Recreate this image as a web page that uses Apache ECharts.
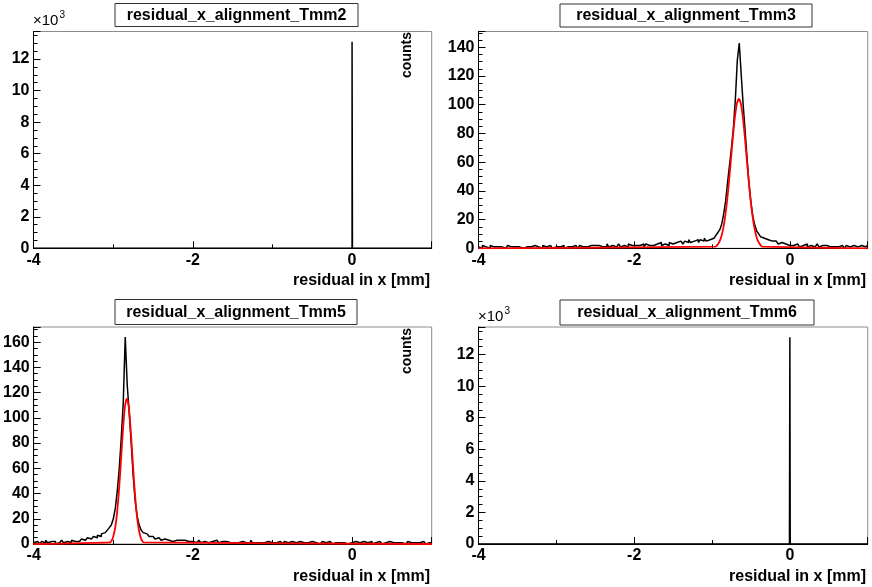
<!DOCTYPE html>
<html>
<head>
<meta charset="utf-8">
<script src="https://cdn.jsdelivr.net/npm/echarts@6/dist/echarts.min.js"></script>
<style>
html,body{margin:0;padding:0;background:#fff;}
#c{width:872px;height:587px;}
</style>
</head>
<body>
<div id="c"></div>
<script>
// ---------------- DATA ----------------
const panelTitles = ['residual_x_alignment_Tmm2', 'residual_x_alignment_Tmm3', 'residual_x_alignment_Tmm5', 'residual_x_alignment_Tmm6'];
const xTitle = 'residual in x [mm]';
const yTitle = 'counts';
const xRange = [-4, 1];
const xTickLabels = ['-4', '-2', '0'];

// Tmm2 / Tmm6: nearly all entries in one bin at 0 (bin edges + counts)
const tmm2Edges = [-4, 0, 0.005];
const tmm2Counts = [0, 13100, 0];
const tmm6Edges = [-4, -0.005, 0, 0.005];
const tmm6Counts = [0, 900, 13100, 0];
const yMaxTmm2 = 13750, yMaxTmm6 = 13750;

// Tmm3 / Tmm5: 200 bins of 0.025 mm from -4 to 1
const binStart = -4, binWidth = 0.025;
const tmm3Counts = [
  1,0,2,1,1,0,2,1,0,1,2,1,1,0,1,2,1,0,1,1,
  1,2,0,1,1,2,1,0,2,1,1,1,0,2,1,1,2,1,0,1,
  2,1,1,2,0,1,2,1,1,2,1,0,2,1,2,1,1,2,1,2,
  1,2,2,1,2,1,3,1,2,2,1,2,3,1,2,2,1,3,2,2,
  2,3,2,2,3,1,3,2,3,2,3,3,2,4,2,3,3,2,4,3,
  3,4,3,5,4,3,5,4,6,4,5,5,6,4,6,5,7,5,6,7,
  7,8,9,11,13,17,24,33,46,58,70,84,104,131,143,121,100,82,63,45,
  32,22,16,12,10,8,7,6,6,5,5,4,5,4,3,4,3,3,4,2,
  3,2,2,3,2,1,2,2,3,1,2,2,1,2,3,1,2,1,2,2,
  1,2,1,2,1,1,2,1,0,2,1,1,2,1,1,0,2,1,1,2
];
const tmm5Counts = [
  1,2,1,0,2,1,3,1,2,1,2,0,1,2,3,1,2,2,1,3,
  2,3,2,3,4,3,4,5,4,5,6,5,7,6,8,9,10,11,13,15,
  20,28,42,60,84,112,164,126,104,80,54,34,22,15,11,9,8,7,6,6,
  5,4,5,4,3,4,3,3,4,2,3,3,2,3,2,3,2,2,3,2,
  2,1,2,3,1,2,2,1,2,2,1,3,2,1,2,1,2,2,1,2,
  1,2,1,2,2,1,1,2,1,3,1,1,2,1,2,1,1,2,1,1,
  2,1,1,2,1,0,2,1,1,2,1,1,0,2,1,1,2,1,1,2,
  1,1,2,0,1,2,1,1,2,1,0,1,2,1,1,1,2,0,1,1,
  1,2,1,1,0,2,1,1,1,2,0,1,1,2,1,0,1,1,2,1,
  1,0,1,2,1,1,0,1,2,1,1,1,0,1,1,2,1,0,1,1
];
const yMaxTmm3 = 151, yMaxTmm5 = 172;

// Gaussian fit curves (red)
const tmm3FitX = [-4,-0.955,-0.93,-0.905,-0.88,-0.855,-0.83,-0.805,-0.78,-0.755,-0.73,-0.705,-0.68,-0.655,-0.63,-0.605,-0.58,-0.555,-0.53,-0.505,-0.48,-0.455,-0.43,-0.405,-0.38,-0.355,1];
const tmm3FitY = [0,1.2,2.4,4.6,8.3,14.1,22.5,33.8,47.6,63.1,78.5,91.8,100.8,104,100.8,91.8,78.5,63.1,47.6,33.8,22.5,14.1,8.3,4.6,2.4,1.2,0];
const tmm5FitX = [-4,-3.04,-3.0225,-3.005,-2.9875,-2.97,-2.9525,-2.935,-2.9175,-2.9,-2.8825,-2.865,-2.8475,-2.83,-2.8125,-2.795,-2.7775,-2.76,-2.7425,-2.725,-2.7075,-2.69,-2.6725,-2.655,-2.6375,-2.62,1];
const tmm5FitY = [0,1.3,2.6,5.0,9.2,15.6,24.9,37.3,52.6,69.7,86.8,101.5,111.5,115,111.5,101.5,86.8,69.7,52.6,37.3,24.9,15.6,9.2,5.0,2.6,1.3,0];

// ---------------- BUILD ----------------
const FONT = '"Liberation Sans", Arial, Helvetica, sans-serif';

function stepFromEdges(edges, counts) {
  const d = edges.map((e, i) => [e, counts[i]]);
  d.push([xRange[1], counts[counts.length - 1]]);
  return d;
}
function stepUniform(counts) {
  const edges = counts.map((_, i) => +(binStart + i * binWidth).toFixed(4));
  return stepFromEdges(edges, counts);
}
function zip(xs, ys) { return xs.map((x, i) => [x, ys[i]]); }

const grids = [
  {left: 33.5, top: 31.5, width: 398.2, height: 216.8},
  {left: 478.5, top: 31.5, width: 389.2, height: 216.8},
  {left: 33.5, top: 327, width: 398.2, height: 217},
  {left: 478.5, top: 327, width: 389.2, height: 217}
];
grids.forEach(g => { g.show = true; g.borderColor = '#8c8c8c'; g.borderWidth = 1; g.backgroundColor = 'transparent'; g.containLabel = false; });

const labelStyle = {color: '#000', fontFamily: FONT, fontWeight: 'bold', fontSize: 16};

function xAxisFor(i) {
  return {
    type: 'value', gridIndex: i, min: xRange[0], max: xRange[1], interval: 2,
    axisLine: {show: true, onZero: false, lineStyle: {color: '#000', width: 1}},
    axisTick: {show: true, inside: true, length: 7, lineStyle: {color: '#000', width: 1}},
    minorTick: {show: true, splitNumber: 2, length: 4, lineStyle: {color: '#000', width: 1}},
    splitLine: {show: false}, minorSplitLine: {show: false},
    axisLabel: Object.assign({}, labelStyle, {margin: 4, showMaxLabel: false,
      formatter: v => { const s = String(Math.round(v)); return xTickLabels.indexOf(s) >= 0 ? s : ''; }})
  };
}
function yAxisFor(i, max, interval, scale) {
  return {
    type: 'value', gridIndex: i, min: 0, max: max, interval: interval,
    axisLine: {show: true, onZero: false, lineStyle: {color: '#000', width: 1}},
    axisTick: {show: true, inside: true, length: 7, lineStyle: {color: '#000', width: 1}},
    minorTick: {show: true, splitNumber: 4, length: 4, lineStyle: {color: '#000', width: 1}},
    splitLine: {show: false}, minorSplitLine: {show: false},
    axisLabel: Object.assign({}, labelStyle, {margin: 4, showMaxLabel: false,
      formatter: v => String(Math.round(v / scale))})
  };
}

const histLine = {color: '#000', width: 1.5};
const fitLine = {color: '#ff0000', width: 1.8};
function hist(i, data) {
  return {type: 'line', xAxisIndex: i, yAxisIndex: i, step: 'end', data: data, symbol: 'none',
    lineStyle: histLine, itemStyle: {color: '#000'}, silent: true, z: 2};
}
function fit(i, data) {
  return {type: 'line', xAxisIndex: i, yAxisIndex: i, data: data, symbol: 'none', smooth: 0.2,
    lineStyle: fitLine, itemStyle: {color: '#ff0000'}, silent: true, z: 3};
}

const titleBoxes = [
  {x: 115, y: 3.5, w: 243, h: 23},
  {x: 560, y: 4, w: 252, h: 23},
  {x: 115, y: 299.5, w: 242, h: 25},
  {x: 560, y: 300, w: 254, h: 25}
];
const graphic = [];
titleBoxes.forEach((b, i) => {
  graphic.push({type: 'rect', shape: {x: b.x, y: b.y, width: b.w, height: b.h},
    style: {fill: '#fff', stroke: '#333', lineWidth: 1}, z: 10});
  graphic.push({type: 'text', x: b.x + b.w / 2, y: b.y + b.h / 2 + 0.5,
    style: {text: panelTitles[i], fill: '#000', font: 'bold 16px ' + FONT, align: 'center', verticalAlign: 'middle'}, z: 11});
});
// x-axis titles
[[430, 281], [866, 281], [430, 576.5], [866, 576.5]].forEach(p => {
  graphic.push({type: 'text', x: p[0], y: p[1],
    style: {text: xTitle, fill: '#000', font: 'bold 16px ' + FONT, align: 'right', verticalAlign: 'middle'}, z: 11});
});
// y-axis titles (left panels only; right ones fall outside the canvas)
[[407.5, 55], [407.5, 351]].forEach(p => {
  graphic.push({type: 'text', x: p[0], y: p[1], rotation: Math.PI / 2,
    style: {text: yTitle, fill: '#000', font: 'bold 14px ' + FONT, align: 'center', verticalAlign: 'middle'}, z: 11});
});
// x10^3 multipliers
[[33, 28], [478, 324]].forEach(p => {
  graphic.push({type: 'text', x: p[0], y: p[1],
    style: {text: '{a|×10}{b|3}', fill: '#000', align: 'left', verticalAlign: 'bottom',
      rich: {a: {fontFamily: FONT, fontSize: 15, fill: '#000', verticalAlign: 'bottom'},
             b: {fontFamily: FONT, fontSize: 10, fill: '#000', verticalAlign: 'top', padding: [0, 0, 8, 1]}}}, z: 11});
});

const option = {
  animation: false,
  backgroundColor: '#fff',
  grid: grids,
  xAxis: [0, 1, 2, 3].map(xAxisFor),
  yAxis: [
    yAxisFor(0, yMaxTmm2, 2000, 1000),
    yAxisFor(1, yMaxTmm3, 20, 1),
    yAxisFor(2, yMaxTmm5, 20, 1),
    yAxisFor(3, yMaxTmm6, 2000, 1000)
  ],
  series: [
    hist(0, stepFromEdges(tmm2Edges, tmm2Counts)),
    hist(1, stepUniform(tmm3Counts)),
    fit(1, zip(tmm3FitX, tmm3FitY)),
    hist(2, stepUniform(tmm5Counts)),
    fit(2, zip(tmm5FitX, tmm5FitY)),
    hist(3, stepFromEdges(tmm6Edges, tmm6Counts))
  ],
  graphic: graphic
};
const chart = echarts.init(document.getElementById('c'), null, {renderer: 'canvas'});
chart.setOption(option);
</script>
</body>
</html>
